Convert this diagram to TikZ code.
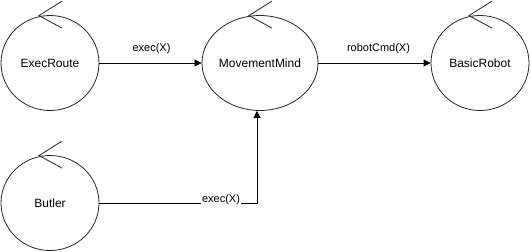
\documentclass[tikz,border=0pt]{standalone}
\usepackage{fontspec}
\setmainfont{Liberation Sans}
\usetikzlibrary{shapes.geometric,arrows.meta,calc}
\begin{document}
\begin{tikzpicture}[x=1pt,y=-1pt,
  ctrl/.style={ellipse,draw=black!85,line width=0.8pt,minimum width=98pt,minimum height=95pt,inner sep=0pt,font=\fontsize{12}{14}\selectfont},
  flow/.style={draw=black,line width=0.8pt,-{Triangle[length=7pt,width=7pt]}},
  lbl/.style={font=\fontsize{11}{13}\selectfont,inner sep=1pt},
  ctrlmark/.style={draw=black!85,line width=0.8pt}]
\useasboundingbox (0,0) rectangle (531,252);
\fill[white] (0,0) rectangle (531,252);

% control objects
\node[ctrl] (exec)  at (50,63)  {ExecRoute};
\node[ctrl] (mind)  at (260,63) {MovementMind};
\node[ctrl] (robot) at (480,63) {BasicRobot};
\node[ctrl] (butler) at (50,203) {Butler};

% control-class arrow marks on top of each circle
\foreach \n in {exec,mind,robot,butler}{
  \draw[ctrlmark] ($(\n.north)+(12,-14)$) -- ($(\n.north)+(-11,0.5)$) -- ($(\n.north)+(12,13)$);
}

% messages
\draw[flow] (exec.east) -- (mind.west) node[lbl,midway,above=8pt,xshift=1pt] {exec(X)};
\draw[flow] (mind.east) -- (robot.west) node[lbl,midway,above=8pt,xshift=4pt] {robotCmd(X)};
\coordinate (bend) at (257,203);
\draw[flow] (butler.east) -- (bend) -- (bend |- mind.south);
\node[lbl,fill=white] (bl) at (221,200) {exec(X)};
\end{tikzpicture}
\end{document}
